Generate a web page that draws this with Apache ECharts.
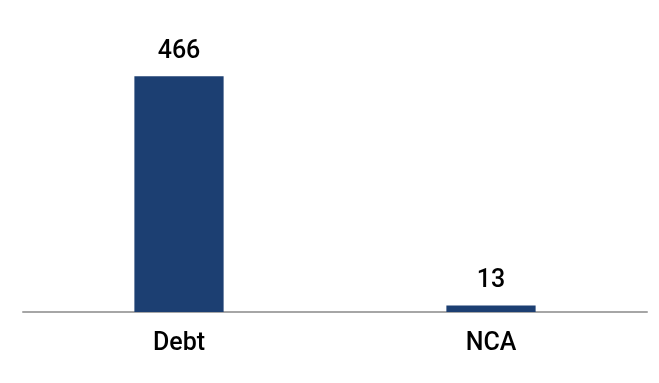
<!DOCTYPE html>
<html><head><meta charset="utf-8">
<script src="https://cdn.jsdelivr.net/npm/echarts@6/dist/echarts.min.js"></script>
<style>html,body{margin:0;padding:0;background:#fff}#c{width:659px;height:383px}</style>
</head><body><div id="c"></div>
<script>
var categories = ['Debt', 'NCA'];
var values = [466, 13];
var chart = echarts.init(document.getElementById('c'));
chart.setOption({
  animation: false,
  grid: {left: 23, right: 12, top: 59, bottom: 71},
  xAxis: {
    type: 'category', data: categories,
    axisLine: {lineStyle: {color: '#a6a6a6', width: 2}},
    axisTick: {show: false},
    axisLabel: {color: '#000', fontFamily: 'Roboto', fontWeight: 500, fontSize: 25, margin: 19}
  },
  yAxis: {type: 'value', min: 0, max: 500, show: false, splitLine: {show: false}},
  series: [{
    type: 'bar', data: values, barWidth: '28.6%',
    itemStyle: {color: '#1c3f72'},
    label: {show: true, position: 'top', distance: 12, color: '#000', fontFamily: 'Roboto', fontWeight: 500, fontSize: 25}
  }]
});
</script></body></html>
